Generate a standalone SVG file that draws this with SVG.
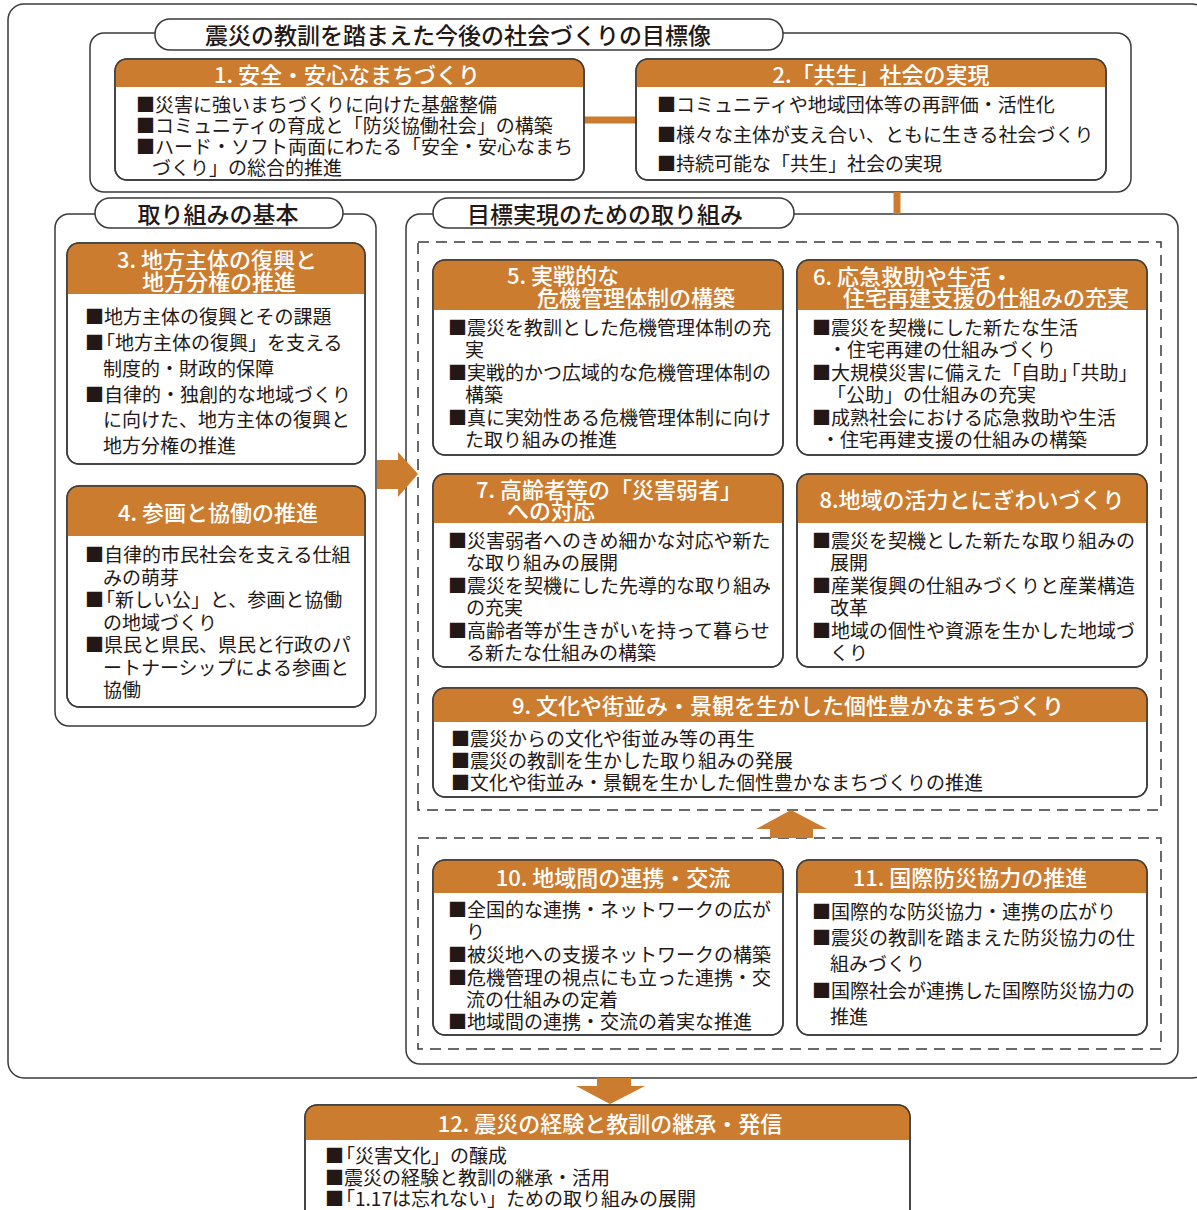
<svg xmlns="http://www.w3.org/2000/svg" width="1197" height="1210" viewBox="0 0 1197 1210">
<style>
text{font-family:"Noto Sans CJK JP","Noto Sans",sans-serif;dominant-baseline:central}
.frame{fill:#fff;stroke:#3a3a3a;stroke-width:1.5}
.line{fill:none;stroke:#3a3a3a;stroke-width:1.5}
.dash{fill:none;stroke:#3a3a3a;stroke-width:1.5;stroke-dasharray:11 7}
.hdr{fill:#cc7c2e}
.ht{fill:#fff;font-size:22px;font-weight:500}
.st{fill:#231815;font-size:23px;font-weight:500;text-anchor:middle}
.bt{fill:#231815;font-size:19px}
.mid{text-anchor:middle}
.or{fill:#cc7c2e}
.orl{stroke:#cc7c2e;stroke-width:7;fill:none}
</style>
<rect width="1197" height="1210" fill="#fff"/>
<rect x="8" y="4" width="1200" height="1074" rx="16" class="frame"/>

<g id="sec-target">
<rect x="90" y="33" width="1041" height="159" rx="14" class="frame"/>
<rect x="155" y="19" width="628" height="31" rx="15" class="frame"/>
<text x="458" y="34" class="st">震災の教訓を踏まえた今後の社会づくりの目標像</text>
</g>

<g id="sec-basic">
<rect x="55" y="214" width="321" height="512" rx="14" class="frame"/>
<rect x="95" y="198" width="248" height="30" rx="15" class="frame"/>
<text x="218" y="213" class="st">取り組みの基本</text>
</g>

<g id="sec-effort">
<rect x="406" y="214" width="772" height="850" rx="14" class="frame"/>
<rect x="433" y="198" width="361" height="30" rx="15" class="frame"/>
<text x="605" y="213" class="st">目標実現のための取り組み</text>
<rect x="418" y="242" width="743" height="568" class="dash"/>
<rect x="418" y="838" width="743" height="211" class="dash"/>
</g>

<g id="connectors">
<line x1="583" y1="120" x2="637" y2="120" class="orl"/>
<line x1="897" y1="192" x2="897" y2="214" class="orl"/>
<polygon class="or" points="377,460 398,460 398,452 418,474 398,497 398,489 377,489"/>
<polygon class="or" points="791,810 827,829 813,829 813,838 770,838 770,829 756,829"/>
<polygon class="or" points="597,1078 631,1078 631,1086 645,1086 610,1104 576,1086 597,1086"/>
</g>

<g id="node1">
<rect x="115" y="59" width="469" height="121" rx="12" class="frame"/>
<path class="hdr" d="M115,87 V71 Q115,59 127,59 H572 Q584,59 584,71 V87 Z"/>
<rect x="115" y="59" width="469" height="121" rx="12" class="line"/>
<text x="347" y="73" class="ht mid">1. 安全・安心なまちづくり</text>
<text class="bt"><tspan x="136" y="103">■災害に強いまちづくりに向けた基盤整備</tspan><tspan x="136" y="124">■コミュニティの育成と「防災協働社会」の構築</tspan><tspan x="136" y="145">■ハード・ソフト両面にわたる「安全・安心なまち</tspan><tspan x="152" y="166">づくり」の総合的推進</tspan></text>
</g>

<g id="node2">
<rect x="636" y="59" width="470" height="121" rx="12" class="frame"/>
<path class="hdr" d="M636,87 V71 Q636,59 648,59 H1094 Q1106,59 1106,71 V87 Z"/>
<rect x="636" y="59" width="470" height="121" rx="12" class="line"/>
<text x="881" y="73" class="ht mid">2.「共生」社会の実現</text>
<text class="bt"><tspan x="657" y="103">■コミュニティや地域団体等の再評価・活性化</tspan><tspan x="657" y="133">■様々な主体が支え合い、ともに生きる社会づくり</tspan><tspan x="657" y="162">■持続可能な「共生」社会の実現</tspan></text>
</g>

<g id="node3">
<rect x="67" y="243" width="298" height="221" rx="12" class="frame"/>
<path class="hdr" d="M67,294 V255 Q67,243 79,243 H353 Q365,243 365,255 V294 Z"/>
<rect x="67" y="243" width="298" height="221" rx="12" class="line"/>
<text class="ht mid"><tspan x="217" y="258">3. 地方主体の復興と</tspan><tspan x="219" y="280">地方分権の推進</tspan></text>
<text class="bt"><tspan x="85" y="315">■地方主体の復興とその課題</tspan><tspan x="85" y="341">■</tspan><tspan dx="-8">「地方主体の復興」を支える</tspan><tspan x="103" y="367">制度的・財政的保障</tspan><tspan x="85" y="393">■自律的・独創的な地域づくり</tspan><tspan x="103" y="418">に向けた、地方主体の復興と</tspan><tspan x="103" y="444">地方分権の推進</tspan></text>
</g>

<g id="node4">
<rect x="67" y="486" width="298" height="221" rx="12" class="frame"/>
<path class="hdr" d="M67,536 V498 Q67,486 79,486 H353 Q365,486 365,498 V536 Z"/>
<rect x="67" y="486" width="298" height="221" rx="12" class="line"/>
<text x="218" y="511" class="ht mid">4. 参画と協働の推進</text>
<text class="bt"><tspan x="85" y="553">■自律的市民社会を支える仕組</tspan><tspan x="103" y="576">みの萌芽</tspan><tspan x="85" y="598">■</tspan><tspan dx="-8">「新しい公」と、参画と協働</tspan><tspan x="103" y="621">の地域づくり</tspan><tspan x="85" y="643">■県民と県民、県民と行政のパ</tspan><tspan x="103" y="666">ートナーシップによる参画と</tspan><tspan x="103" y="688">協働</tspan></text>
</g>

<g id="node5">
<rect x="433" y="260" width="350" height="195" rx="12" class="frame"/>
<path class="hdr" d="M433,310 V272 Q433,260 445,260 H771 Q783,260 783,272 V310 Z"/>
<rect x="433" y="260" width="350" height="195" rx="12" class="line"/>
<text class="ht"><tspan x="507" y="274">5. 実戦的な</tspan><tspan x="537" y="296">危機管理体制の構築</tspan></text>
<text class="bt"><tspan x="448" y="326">■震災を教訓とした危機管理体制の充</tspan><tspan x="465" y="348">実</tspan><tspan x="448" y="371">■実戦的かつ広域的な危機管理体制の</tspan><tspan x="465" y="393">構築</tspan><tspan x="448" y="416">■真に実効性ある危機管理体制に向け</tspan><tspan x="465" y="438">た取り組みの推進</tspan></text>
</g>

<g id="node6">
<rect x="797" y="260" width="350" height="195" rx="12" class="frame"/>
<path class="hdr" d="M797,310 V272 Q797,260 809,260 H1135 Q1147,260 1147,272 V310 Z"/>
<rect x="797" y="260" width="350" height="195" rx="12" class="line"/>
<text class="ht"><tspan x="813" y="275">6. 応急救助や生活・</tspan><tspan x="843" y="296">住宅再建支援の仕組みの充実</tspan></text>
<text class="bt"><tspan x="812" y="326">■震災を契機にした新たな生活</tspan><tspan x="828" y="348">・住宅再建の仕組みづくり</tspan><tspan x="812" y="371">■大規模災害に備えた「自助」</tspan><tspan dx="-7">「共助」</tspan><tspan x="827" y="393">「公助」の仕組みの充実</tspan><tspan x="812" y="416">■成熟社会における応急救助や生活</tspan><tspan x="821" y="438">・住宅再建支援の仕組みの構築</tspan></text>
</g>

<g id="node7">
<rect x="433" y="474" width="350" height="193" rx="12" class="frame"/>
<path class="hdr" d="M433,523 V486 Q433,474 445,474 H771 Q783,474 783,486 V523 Z"/>
<rect x="433" y="474" width="350" height="193" rx="12" class="line"/>
<text class="ht"><tspan x="476" y="488">7. 高齢者等の「災害弱者」</tspan><tspan x="507" y="509">への対応</tspan></text>
<text class="bt"><tspan x="448" y="539">■災害弱者へのきめ細かな対応や新た</tspan><tspan x="466" y="561">な取り組みの展開</tspan><tspan x="448" y="584">■震災を契機にした先導的な取り組み</tspan><tspan x="466" y="606">の充実</tspan><tspan x="448" y="629">■高齢者等が生きがいを持って暮らせ</tspan><tspan x="466" y="651">る新たな仕組みの構築</tspan></text>
</g>

<g id="node8">
<rect x="797" y="474" width="350" height="193" rx="12" class="frame"/>
<path class="hdr" d="M797,523 V486 Q797,474 809,474 H1135 Q1147,474 1147,486 V523 Z"/>
<rect x="797" y="474" width="350" height="193" rx="12" class="line"/>
<text x="972" y="498" class="ht mid">8.地域の活力とにぎわいづくり</text>
<text class="bt"><tspan x="812" y="539">■震災を契機とした新たな取り組みの</tspan><tspan x="830" y="561">展開</tspan><tspan x="812" y="584">■産業復興の仕組みづくりと産業構造</tspan><tspan x="830" y="606">改革</tspan><tspan x="812" y="629">■地域の個性や資源を生かした地域づ</tspan><tspan x="830" y="651">くり</tspan></text>
</g>

<g id="node9">
<rect x="433" y="688" width="714" height="109" rx="12" class="frame"/>
<path class="hdr" d="M433,722 V700 Q433,688 445,688 H1135 Q1147,688 1147,700 V722 Z"/>
<rect x="433" y="688" width="714" height="109" rx="12" class="line"/>
<text x="788" y="704" class="ht mid">9. 文化や街並み・景観を生かした個性豊かなまちづくり</text>
<text class="bt"><tspan x="451" y="737">■震災からの文化や街並み等の再生</tspan><tspan x="451" y="759">■震災の教訓を生かした取り組みの発展</tspan><tspan x="451" y="781">■文化や街並み・景観を生かした個性豊かなまちづくりの推進</tspan></text>
</g>

<g id="node10">
<rect x="433" y="860" width="350" height="175" rx="12" class="frame"/>
<path class="hdr" d="M433,893 V872 Q433,860 445,860 H771 Q783,860 783,872 V893 Z"/>
<rect x="433" y="860" width="350" height="175" rx="12" class="line"/>
<text x="613" y="876" class="ht mid">10. 地域間の連携・交流</text>
<text class="bt"><tspan x="448" y="908">■全国的な連携・ネットワークの広が</tspan><tspan x="466" y="930">り</tspan><tspan x="448" y="953">■被災地への支援ネットワークの構築</tspan><tspan x="448" y="976">■危機管理の視点にも立った連携・交</tspan><tspan x="466" y="998">流の仕組みの定着</tspan><tspan x="448" y="1020">■地域間の連携・交流の着実な推進</tspan></text>
</g>

<g id="node11">
<rect x="797" y="860" width="350" height="175" rx="12" class="frame"/>
<path class="hdr" d="M797,893 V872 Q797,860 809,860 H1135 Q1147,860 1147,872 V893 Z"/>
<rect x="797" y="860" width="350" height="175" rx="12" class="line"/>
<text x="970" y="876" class="ht mid">11. 国際防災協力の推進</text>
<text class="bt"><tspan x="812" y="910">■国際的な防災協力・連携の広がり</tspan><tspan x="812" y="936">■震災の教訓を踏まえた防災協力の仕</tspan><tspan x="830" y="962">組みづくり</tspan><tspan x="812" y="989">■国際社会が連携した国際防災協力の</tspan><tspan x="830" y="1015">推進</tspan></text>
</g>

<g id="node12">
<rect x="305" y="1105" width="605" height="130" rx="12" class="frame"/>
<path class="hdr" d="M305,1140 V1117 Q305,1105 317,1105 H898 Q910,1105 910,1117 V1140 Z"/>
<rect x="305" y="1105" width="605" height="130" rx="12" class="line"/>
<text x="610" y="1122" class="ht mid">12. 震災の経験と教訓の継承・発信</text>
<text class="bt"><tspan x="325" y="1154">■</tspan><tspan dx="-8">「災害文化」の醸成</tspan><tspan x="325" y="1176">■震災の経験と教訓の継承・活用</tspan><tspan x="325" y="1197">■</tspan><tspan dx="-8">「1.17は忘れない」ための取り組みの展開</tspan></text>
</g>
</svg>
